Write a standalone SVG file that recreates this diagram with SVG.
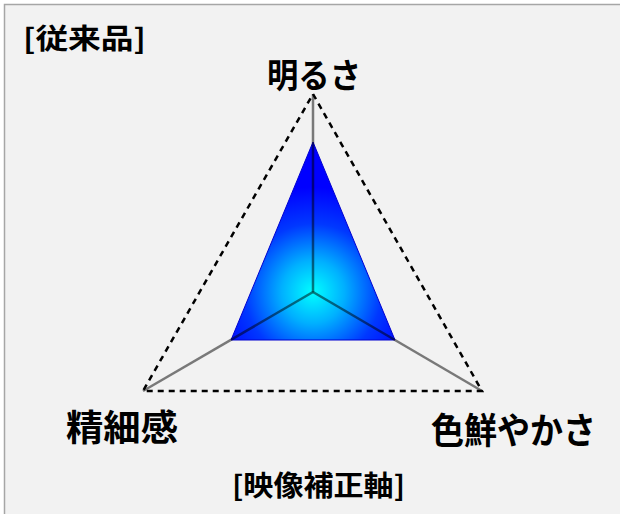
<svg xmlns="http://www.w3.org/2000/svg" width="620" height="514" viewBox="0 0 620 514">
  <style>
    .lbl { font-family: "Noto Sans CJK JP", "Noto Sans", sans-serif; font-weight: bold; fill: #000; }
    .dash { fill: none; stroke: #000; stroke-width: 2.5; stroke-dasharray: 6 5; }
    .axis { stroke: #000; stroke-opacity: 0.5; stroke-width: 2.5; fill: none; }
  </style>
  <defs>
    <radialGradient id="blueGrad" gradientUnits="userSpaceOnUse" cx="313" cy="292" r="105">
      <stop offset="0" stop-color="#00ffff"/>
      <stop offset="0.3" stop-color="#00b0ff"/>
      <stop offset="0.65" stop-color="#0038ff"/>
      <stop offset="1" stop-color="#0000ff"/>
    </radialGradient>
  </defs>
  <rect x="0" y="0" width="620" height="514" fill="#ffffff"/>
  <rect x="4.5" y="4.5" width="640" height="540" fill="#f2f2f2" stroke="#a6a6a6" stroke-width="1.5"/>

  <g id="frame">
    <polygon class="dash" points="313,94 482,391 143,391"/>
  </g>

  <g id="value-area">
    <polygon points="313,142 395,340 231,340" fill="url(#blueGrad)" stroke="#0000d0" stroke-width="1"/>
  </g>

  <g id="connectors">
    <line class="axis" x1="313" y1="292" x2="313" y2="94"/>
    <line class="axis" x1="313" y1="292" x2="143" y2="391"/>
    <line class="axis" x1="313" y1="292" x2="482" y2="391"/>
  </g>

  <g id="title">
    <text class="lbl" x="23" y="49" font-size="28" textLength="123" lengthAdjust="spacingAndGlyphs">[従来品]</text>
  </g>
  <g id="node-brightness">
    <text class="lbl" x="267" y="88" font-size="34" textLength="94" lengthAdjust="spacingAndGlyphs">明るさ</text>
  </g>
  <g id="node-detail">
    <text class="lbl" x="66" y="441" font-size="36" textLength="112" lengthAdjust="spacingAndGlyphs">精細感</text>
  </g>
  <g id="node-vividness">
    <text class="lbl" x="431" y="444" font-size="36" textLength="165" lengthAdjust="spacingAndGlyphs">色鮮やかさ</text>
  </g>
  <g id="caption">
    <text class="lbl" x="232" y="496" font-size="28" textLength="173" lengthAdjust="spacingAndGlyphs">[映像補正軸]</text>
  </g>
</svg>
